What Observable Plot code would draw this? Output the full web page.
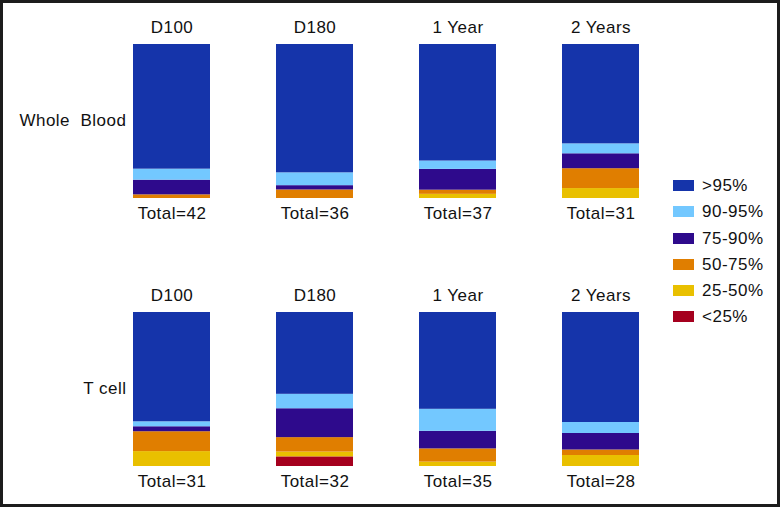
<!DOCTYPE html>
<html>
<head>
<meta charset="utf-8">
<script src="https://cdn.jsdelivr.net/npm/d3@7"></script>
<script src="https://cdn.jsdelivr.net/npm/@observablehq/plot@0.6"></script>
<style>
  html, body { margin: 0; padding: 0; background: #fff; }
  #wrap { position: relative; width: 780px; height: 507px; overflow: hidden;
          font-family: "Liberation Sans", Arial, Helvetica, sans-serif; }
  #wrap svg text { white-space: pre; letter-spacing: 0.5px; }
  #frame { position: absolute; inset: 0; border: 3px solid #1c1c1c; box-sizing: border-box; pointer-events: none; }
  #legend { position: absolute; left: 673px; top: 174px; width: 100px; }
  .row { position: relative; height: 26.3px; }
  .sw { position: absolute; left: 0; top: 6px; width: 21px; height: 11px; }
  .lb { position: absolute; left: 29px; top: 0; font-size: 17px; line-height: 23px; letter-spacing: 0.5px; color: #111; white-space: nowrap; }
</style>
</head>
<body>
<div id="wrap"><div id="frame"></div></div>
<script>
// ---- data ----
const categories = [">95%", "90-95%", "75-90%", "50-75%", "25-50%", "<25%"];
const colors = ["#1534AA", "#73C8FF", "#2E0A8C", "#E07E00", "#E9C000", "#A5001E"];
const timepoints = ["D100", "D180", "1 Year", "2 Years"];
const compartments = ["Whole  Blood", "T cell"];

// counts per category (rows follow `categories`), columns follow `timepoints`
const wholeBlood = [
  [34, 30, 28, 20],   // >95%
  [3, 3, 2, 2],       // 90-95%
  [4, 1, 5, 3],       // 75-90%
  [1, 2, 1, 4],       // 50-75%
  [0, 0, 1, 2],       // 25-50%
  [0, 0, 0, 0]        // <25%
];
const tCell = [
  [22, 17, 22, 20],
  [1, 3, 5, 2],
  [1, 6, 4, 3],
  [4, 3, 3, 1],
  [3, 1, 1, 2],
  [0, 2, 0, 0]
];
const totalsWholeBlood = [42, 36, 37, 31];
const totalsTCell = [31, 32, 35, 28];

// ---- build table ----
const rows = [];
[[compartments[0], wholeBlood], [compartments[1], tCell]].forEach(([comp, m]) => {
  categories.forEach((cat, ci) => {
    timepoints.forEach((t, ti) => rows.push({comp, time: t, cat, count: m[ci][ti]}));
  });
});
const cells = [];
[[compartments[0], totalsWholeBlood], [compartments[1], totalsTCell]].forEach(([comp, tot]) => {
  timepoints.forEach((t, ti) => cells.push({comp, time: t, total: tot[ti]}));
});
const bottomUp = categories.slice().reverse();

const chart = Plot.plot({
  width: 780,
  height: 507,
  marginLeft: 133,
  marginRight: 141,
  marginTop: 44,
  marginBottom: 41,
  style: {fontFamily: '"Liberation Sans", Arial, Helvetica, sans-serif', fontSize: "17px", color: "#111", background: "transparent"},
  fx: {domain: timepoints, paddingInner: 66 / 143, paddingOuter: 0, axis: null},
  fy: {domain: compartments, paddingInner: 114 / 268, paddingOuter: 0, axis: null},
  y: {domain: [0, 1], axis: null},
  color: {domain: categories, range: colors},
  marks: [
    Plot.barY(rows, Plot.stackY({
      y: "count", fx: "time", fy: "comp", fill: "cat", z: "cat",
      order: bottomUp, offset: "normalize"
    })),
    Plot.text(cells, {fx: "time", fy: "comp", text: "time", frameAnchor: "top", lineAnchor: "bottom", dy: -12, fill: "#111"}),
    Plot.text(cells, {fx: "time", fy: "comp", text: d => `Total=${d.total}`, frameAnchor: "bottom", lineAnchor: "top", dy: 8, fill: "#111"}),
    Plot.text(compartments, {fx: () => timepoints[0], fy: d => d, text: d => d, frameAnchor: "left", textAnchor: "end", dx: -7, dy: -1, fill: "#111"})
  ]
});
const wrap = document.getElementById("wrap");
wrap.insertBefore(chart, wrap.firstChild);

// ---- legend ----
const legend = document.createElement("div");
legend.id = "legend";
categories.forEach((c, i) => {
  const r = document.createElement("div");
  r.className = "row";
  r.innerHTML = `<span class="sw" style="background:${colors[i]}"></span><span class="lb"></span>`;
  r.querySelector(".lb").textContent = c;
  legend.appendChild(r);
});
wrap.appendChild(legend);
</script>
</body>
</html>
